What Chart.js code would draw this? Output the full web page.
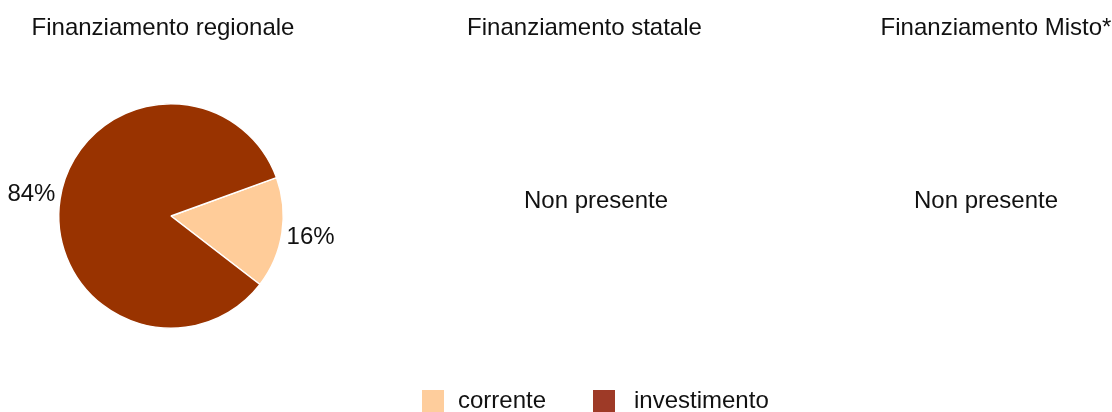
<!DOCTYPE html>
<html>
<head>
<meta charset="utf-8">
<script src="https://cdn.jsdelivr.net/npm/chart.js@4/dist/chart.umd.min.js"></script>
<style>
  body { margin: 0; background: #fff; }
  .wrap { width: 1112px; height: 412px; }
</style>
</head>
<body>
<div class="wrap"><canvas id="fin" width="1112" height="412"></canvas></div>
<script>
"use strict";

//////////////////////////////
// Data
const categories = ["corrente", "investimento"];
const regionaleValues = [16, 84];
const panelTitles = ["Finanziamento regionale", "Finanziamento statale", "Finanziamento Misto*"];
const emptyText = "Non presente";

//////////////////////////////
// Styles
const pieColors = ["#FFCC99", "#993300"];
const legendColors = ["#FECD9C", "#9E3A27"];
const FONT = "24px Arial, 'Liberation Sans', Helvetica, sans-serif";
const titleX = [163, 584.5, 996];
const emptyX = [null, 596, 986];

// titles, "Non presente", percent labels and legend
const extrasPlugin = {
  id: "extras",
  afterDraw(chart) {
    const ctx = chart.ctx;
    ctx.save();
    ctx.font = FONT;
    ctx.fillStyle = "#111111";
    ctx.textAlign = "center";
    ctx.textBaseline = "alphabetic";

    panelTitles.forEach((t, i) => ctx.fillText(t, titleX[i], 35));
    emptyX.forEach((x) => {
      if (x !== null) ctx.fillText(emptyText, x, 208);
    });

    // percent labels outside the slices
    const total = regionaleValues.reduce((a, b) => a + b, 0);
    const meta = chart.getDatasetMeta(0);
    ctx.textBaseline = "middle";
    meta.data.forEach((arc, i) => {
      const mid = (arc.startAngle + arc.endAngle) / 2;
      const r = arc.outerRadius + 29;
      const pct = Math.round((regionaleValues[i] / total) * 100) + "%";
      ctx.fillText(pct, arc.x + Math.cos(mid) * r, arc.y + Math.sin(mid) * r);
    });

    // legend
    const boxX = [422, 593];
    const textX = [458, 634];
    ctx.textAlign = "left";
    ctx.textBaseline = "alphabetic";
    categories.forEach((c, i) => {
      ctx.fillStyle = legendColors[i];
      ctx.fillRect(boxX[i], 390, 22, 22);
      ctx.fillStyle = "#111111";
      ctx.fillText(c, textX[i], 408);
    });
    ctx.restore();
  },
};

const ctx = document.getElementById("fin").getContext("2d");
new Chart(ctx, {
  type: "pie",
  data: {
    labels: categories,
    datasets: [
      {
        data: regionaleValues,
        backgroundColor: pieColors,
        borderColor: "#ffffff",
        borderWidth: 1.5,
      },
    ],
  },
  options: {
    responsive: false,
    animation: false,
    rotation: 70,
    layout: { padding: { left: 58, right: 828, top: 103, bottom: 83 } },
    plugins: {
      legend: { display: false },
      tooltip: { enabled: false },
      title: { display: false },
    },
  },
  plugins: [extrasPlugin],
});
</script>
</body>
</html>
